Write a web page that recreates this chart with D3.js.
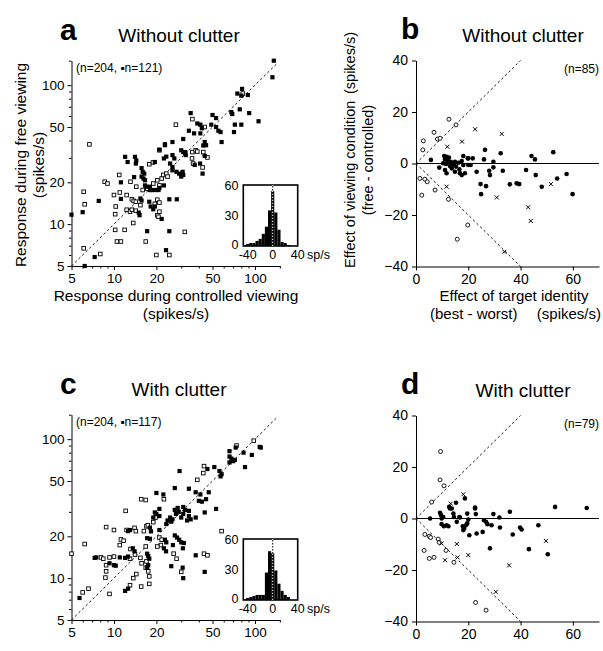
<!DOCTYPE html>
<html><head><meta charset="utf-8">
<script src="https://cdn.jsdelivr.net/npm/d3@7"></script>
<style>body{margin:0;background:#fff} text{font-family:"Liberation Sans",Arial,sans-serif;fill:#000}</style>
</head><body><svg id="chart" width="603" height="651"></svg>
<script>
// ---------- DATA ----------
const logMajorTicks = [5, 10, 20, 50, 100];
const logMinorTicks = [6,7,8,9,30,40,60,70,80,90,150];
const linXTicks = [0, 20, 40, 60];
const linYTicks = [-40, -20, 0, 20, 40];
const insetXTicks = [-40, 0, 40];
const insetYTicks = [0, 30, 60];

// panel a: [controlled, free]
const aFilled = [[136,150],[133,114],[81,94],[75,87],[80,84],[89,85],[68,64],[69,62],[78,67],[91,63],[72,52],[80,52],[106,55],[71,46],[35,63],[50,61],[53,58],[39,53],[41,52],[42,49],[49,52],[53,50],[55,47],[57,46],[34,47],[37,45],[41,45],[31,41],[26,39],[23,37],[30,34],[31,33],[32,33],[44,39],[45,37],[58,39],
[12,30.5],[12.5,28],[13.9,21.8],[11.2,20],[7.8,14.7],[6.0,12.2],[5.0,11.7],[11.2,15.2],[15.4,15.3],[15.7,14.8],[15,12.1],[15.2,11.6],[7.3,5.8],[6.2,5],[17.2,8.9],[21.8,10.9],[24.7,8.9],[23.4,6.5],[24.7,15.1],[27.9,15.1],
[15.7,25.3],[16,23.8],[16.4,23.1],[15.7,22],[16.2,21.3],[16.6,20.7],[19.5,28],[21,34.4],[23,37.6],[22.6,29.7],[23.5,30.6],[26,31.4],[26.8,29.7],[25,27.3],[26,25.8],[26,24.4],[27.8,23.8],[29,23.1],[30,22],[31,22.6],[30.7,23.8],[32,32.6],[32.3,31.4],[43,36.8],[44,31],[37.4,26.7],[40.8,27.3],[42.5,23.1],[16.6,19],[17,18.6],[18,18.6],[18,17.6],[18.5,17.6],[19.5,17.6],[20.7,17.6],[21,18.2],[22.6,19],[17.8,14.5],[18.2,13.4],[19,12.8],[19.5,13.4],[14.1,30.5],[14.4,28.7],[14.3,27.3]];
const aOpen = [[82,87],[36,57],[44,50],[27.5,52],[21,34],[36,33],[43,33],[6.7,37.5],[10.9,22.6],[8.6,20.2],[9.0,19.6],[13.1,20.2],[6.1,17.1],[6.2,13.9],[10,16.2],[11,16.9],[12.3,16.2],[10.3,13.4],[13.4,15.1],[13.8,14.7],[14.3,14.5],[12.3,12.7],[13,12.3],[13.4,12.7],[10.2,11.8],[14.3,12.5],[13.7,10.2],[10.2,9.1],[11.9,9.1],[10.5,7.5],[11.2,7.5],[6.1,6.7],[8,6.1],[16.8,7.5],[20.3,11.6],[20.7,11.3],[21,12.3],[20,6.0],[24.7,6.0],[31.8,8.8],[17.8,27],[18.9,27.8],[35.8,29.7],[36.4,27.3],[38,34],[39,33.3],[46,30.2],[42.5,25.6],[19,19.6],[20.3,20.7],[21,19],[21.8,21.3],[22.4,22.6],[23.5,23.1],[24,22],[17.2,18],[14.4,18.6],[16,17.6],[15.4,13.7],[19.5,14],[20.3,15],[21,14.3]];

// panel c
const cFilled = [[108,88],[110,87],[95,77],[83,80],[73,87],[66,82],[66,75],[68,72.5],[70,69.5],[66,68],[72,71],[85,63],[46,61],[51.5,63],[56,59],[58,56],[57,54],[29.2,59],[27,44.5],[34,44],[38,41.5],[41,40],[47,41.5],[40,36],[42,35.5],[45,37],[53,31.5],[44,29.7],[20,41],[22.4,40],[21,31.5],[19.5,29.7],[20,29],[21,28],[19,27.3],[27,31],[28.3,32],[28.8,30],[27.5,29],[31,32.5],[32,31],[34,30.5],[34,28],[35,26.5],[33,26],[30,27.3],[31,29],[38,27.3],[24,26],[25.5,25.5],[26,26.5],[25,27.3],[23.5,24.5],[18,23.1],[18.3,21.7],[21,22.2],[12.6,21.8],[13,22.2],[17.2,19.4],[18,19.2],[23,18.9],[23.5,18.1],[22.6,16.4],[23.4,15.6],[27,20.3],[28,19.6],[29,18.9],[30,18.1],[31.3,17.9],[26.2,17.3],[30.8,16.4],[13.6,16.4],[14,15.6],[11,14.1],[12,14],[12.6,14.3],[9.3,12.8],[10,12.4],[10.3,12.3],[7.3,14],[7.5,14.1],[17.2,15],[17.5,14.4],[17.8,13.8],[17.5,12.4],[17.2,11.9],[25.5,12.2],[30.7,11.9],[31,10],[38,14.6],[44,11.1],[12,8.1],[12.6,8.4],[5.7,7.2]];
const cOpen = [[98,97.5],[74,90],[43.5,64],[15.6,37],[16.8,36.5],[22.6,37],[12.1,30.5],[8.8,23.3],[10,22.2],[11.2,19],[11.7,18.6],[14,23],[14.3,21.8],[16.3,21.8],[21,19.6],[21.8,18.9],[21.5,17.3],[16.8,16.9],[20.3,16.9],[13.1,16.2],[14.1,14.8],[13,13.8],[8.1,14.1],[9.3,14.1],[10,14.3],[8.4,13.8],[8.8,12.4],[8.8,11.2],[8.7,10.1],[15.4,14],[15.7,12.8],[17,13.2],[16.8,11.9],[17.5,11.2],[17.8,10.3],[17.8,9.1],[14.4,10.7],[13.7,10],[13,8.9],[15.6,8.7],[9.3,7.7],[6,7.9],[6.6,8.4],[27.8,13.8],[30,11.1],[39,51],[43,57],[58,21.8],[43.5,15],[46,14.6],[26.5,15],[6.2,17.6],[12.3,22.2],[11,17.3],[5,15],[17,23.6],[17.4,24],[19,25.3],[19.7,27.3]];

// panel b: [target identity effect, viewing effect]
const bOpen = [[12.6,17.2],[15.3,15],[6.9,12.1],[2.8,8.8],[8.2,9.5],[9.2,9.8],[2.6,5.3],[1.5,-5.8],[3.4,-6.1],[4.3,-7.1],[2.2,-12.3],[7.3,-10.3],[12.4,-13.9],[19.8,-23.9],[15.8,-29.4]];
const bCross = [[22.6,13.3],[32.8,11.5],[12,6.5],[17.6,8.5],[11.7,-9],[30.9,-13.2],[42.9,-17],[43.9,-22.3],[33.8,-34.3],[51.6,-8]];
const bFilled = [[26.4,5.3],[32.4,4],[44.2,2.9],[45.5,1.6],[52.5,4.4],[5.7,1.4],[18.1,2.9],[19.8,2.0],[21.7,2.0],[26,1.6],[29.6,0.7],[8.9,-1.6],[23.2,-3.2],[24.7,-8],[24.9,-11.9],[26.8,-8.8],[28,-2.8],[28.3,-4.5],[29.6,-1.5],[33.2,-2.8],[35.9,-8.1],[38.5,-7.7],[39.5,-8],[42.1,-2.5],[45.8,-4.5],[48.1,-9],[54,-5.8],[57.6,-4.1],[59.9,-11.9],[10.8,2.9],[11.7,2.6],[12.6,2.3],[11.1,1.6],[12.1,1.1],[13.3,0.7],[10.4,0.1],[11.5,-0.2],[13.7,0.1],[14.9,0.7],[16.2,0.3],[17.5,1],[20,2],[11.1,-2.5],[11.7,-3.8],[13.7,-1.9],[14.9,-3.2],[16.8,-3.8],[17.5,-4.5],[18.7,-3.8],[15.3,-1.2],[16.6,-2.3],[13,-1],[14.5,-0.6],[18.1,-0.6],[20,-0.6],[20.9,-0.6]];

// panel d
const dOpen = [[9.4,26],[9.2,15],[10.7,12.7],[6.0,6.4],[3.4,-6.2],[5.1,-6.9],[5.6,-7.4],[8.5,-8.0],[8.9,-9.3],[3.1,-12.4],[11.5,-12.4],[5.1,-15.5],[6.9,-15.1],[14.5,-17.0],[22.8,-32.6],[26.8,-35.6]];
const dCross = [[13.3,5.8],[18.1,9.4],[9.8,-9.7],[15.6,-9.9],[11.1,-16.2],[15.9,-15.1],[20,-14.2],[35.6,-18.2],[30.5,-28.5],[49.7,-8.7]];
const dFilled = [[15.3,6.1],[18.7,7.8],[22.6,4.3],[53.2,4.5],[65.3,4.1],[12.7,4.5],[13.7,3.9],[5.4,0],[9.2,2.2],[9.6,1.3],[9.8,0],[10.4,0.6],[9.8,-2.2],[10.7,-3],[11.7,-2.6],[12.4,-3],[14.3,1.9],[14.5,0.6],[15.6,-1.3],[16.6,0.6],[16.8,0.4],[17.9,-3],[18.4,-3.9],[18.1,-4.5],[19.1,-2.6],[19.6,-1.9],[20,-0.4],[19.6,1.9],[20.4,-6.5],[22.9,1.7],[23.2,-5.8],[25.5,-5.2],[26,-0.7],[26.8,-1.3],[27.3,-2.2],[28.9,-2.6],[29.6,1.7],[28.3,-11.6],[31.9,0.4],[32.1,-3.5],[35.9,2.6],[37,-6.2],[39.8,-3.5],[40.4,-4.3],[43.2,-11.9],[46.8,-2.6],[50.4,-13.9],[13,3.9],[22.6,3.9]];

// inset histograms (bin centres, counts) of free - controlled (sp/s)
const histBins = [-45,-40,-35,-30,-25,-20,-15,-10,-5,0,5,10,15,20,25];
const histA = [1,2,3,3,5,7,12,19,35,54,33,16,4,3,1];
const histC = [1,2,3,4,5,5,5,27,48,46,29,16,9,5,3];

// ---------- DRAW ----------
const svg = d3.select("#chart");
const FONT = '"Liberation Sans",Arial,sans-serif';

function txt(g, x, y, s, size, anchor, extra) {
  const t = g.append("text").attr("x", x).attr("y", y).text(s)
    .style("font-size", size + "px").attr("text-anchor", anchor || "start");
  if (extra) extra(t);
  return t;
}

function logPanel(top, filled, open, nText, title, letter, inset, showXTitle) {
  const g = svg.append("g");
  const x = d3.scaleLog().domain([5, 150]).range([71.5, 279.8]);
  const y = d3.scaleLog().domain([5, 150]).range([266 + top, 60.7 + top]);
  const xg = g.append("g").attr("transform", `translate(0,${266 + top})`);
  xg.call(d3.axisBottom(x).tickValues(logMajorTicks).tickFormat(d3.format("d")).tickSize(4).tickSizeOuter(0).tickPadding(3));
  xg.append("g").call(d3.axisBottom(x).tickValues(logMinorTicks).tickFormat("").tickSize(2.5).tickSizeOuter(0)).select(".domain").remove();
  const yg = g.append("g").attr("transform", `translate(71.5,0)`);
  yg.call(d3.axisLeft(y).tickValues(logMajorTicks).tickFormat(d3.format("d")).tickSize(4).tickSizeOuter(0).tickPadding(3));
  yg.append("g").call(d3.axisLeft(y).tickValues(logMinorTicks).tickFormat("").tickSize(2.5).tickSizeOuter(0)).select(".domain").remove();
  g.selectAll(".tick text").style("font-size", "13.5px").style("font-family", FONT);
  g.selectAll(".domain,.tick line").attr("stroke", "#000").attr("stroke-width", 1);
  g.append("line").attr("x1", x(5)).attr("y1", y(5)).attr("x2", x(145)).attr("y2", y(145))
    .attr("stroke", "#000").attr("stroke-dasharray", "2.5,2.5").attr("stroke-width", 0.9);
  const s = 3.6;
  g.selectAll(".o").data(open).enter().append("rect")
    .attr("x", d => x(d[0]) - s / 2).attr("y", d => y(d[1]) - s / 2).attr("width", s).attr("height", s)
    .attr("fill", "#fff").attr("stroke", "#000").attr("stroke-width", 0.9);
  g.selectAll(".f").data(filled).enter().append("rect")
    .attr("x", d => x(d[0]) - 2.1).attr("y", d => y(d[1]) - 2.1).attr("width", 4.2).attr("height", 4.2)
    .attr("fill", "#000");
  txt(g, 76, 71.7 + top, nText, 12);
  txt(g, 179, 41.7 + top, title, 19, "middle");
  txt(g, 60, 39.5 + top, letter, 30, "start", t => t.style("font-weight", "bold"));
  if (showXTitle) {
    txt(g, 176, 301, "Response during controlled viewing", 15.5, "middle");
    txt(g, 176, 319, "(spikes/s)", 15.5, "middle");
    txt(g, 0, 0, "Response during free viewing", 15.5, "middle", t => t.attr("transform", "translate(26,165) rotate(-90)"));
    txt(g, 0, 0, "(spikes/s)", 15.5, "middle", t => t.attr("transform", "translate(44,165) rotate(-90)"));
  }
  const ix = d3.scaleLinear().domain([-40, 40]).range([247.7, 297.7]);
  const iy = d3.scaleLinear().domain([0, 60]).range([246 + top, 185 + top]);
  const ig = g.append("g");
  ig.append("rect").attr("x", 243.3).attr("y", 185 + top).attr("width", 297.7 - 243.3).attr("height", 61)
    .attr("fill", "#fff").attr("stroke", "#000").attr("stroke-width", 1.6);
  ig.selectAll(".bar").data(histBins.map((b, i) => [b, inset[i]])).enter().append("rect")
    .attr("x", d => ix(d[0] - 2.5)).attr("width", ix(5) - ix(0)).attr("y", d => iy(d[1]))
    .attr("height", d => iy(0) - iy(d[1])).attr("fill", "#000");
  ig.append("line").attr("x1", ix(0)).attr("x2", ix(0)).attr("y1", iy(0)).attr("y2", iy(60))
    .attr("stroke", "#fff").attr("stroke-width", 1).attr("stroke-dasharray", "1.5,1.5");
  ig.append("line").attr("x1", ix(0)).attr("x2", ix(0)).attr("y1", iy(0)).attr("y2", iy(60))
    .attr("stroke", "#000").attr("stroke-width", 1).attr("stroke-dasharray", "1.5,1.5").attr("stroke-dashoffset", 1.5);
  insetYTicks.forEach(v => txt(ig, 238.5, iy(v) + (v === 0 ? 3 : 4.5), String(v), 12.5, "end"));
  insetXTicks.forEach(v => txt(ig, ix(v), 259 + top, String(v), 12.5, "middle"));
  txt(ig, 307, 259 + top, "sp/s", 12.5, "start");
}

function linPanel(top, filled, open, cross, nText, title, letter, showTitles) {
  const g = svg.append("g");
  const x = d3.scaleLinear().domain([0, 70]).range([416, 599]);
  const y = d3.scaleLinear().domain([-40, 40]).range([266.5 + top, 60.5 + top]);
  const xg = g.append("g").attr("transform", `translate(0,${266.5 + top})`);
  xg.call(d3.axisBottom(x).tickValues(linXTicks).tickSize(4).tickSizeOuter(0).tickPadding(4));
  const yg = g.append("g").attr("transform", `translate(416,0)`);
  yg.call(d3.axisLeft(y).tickValues(linYTicks).tickSize(4).tickSizeOuter(0).tickPadding(4));
  g.selectAll(".tick text").style("font-size", "14px").style("font-family", FONT);
  g.selectAll(".domain,.tick line").attr("stroke", "#000").attr("stroke-width", 1);
  g.append("line").attr("x1", x(0)).attr("x2", x(70)).attr("y1", y(0)).attr("y2", y(0)).attr("stroke", "#000").attr("stroke-width", 1);
  g.append("line").attr("x1", x(0)).attr("y1", y(0)).attr("x2", x(40)).attr("y2", y(40))
    .attr("stroke", "#000").attr("stroke-dasharray", "2.5,2.5").attr("stroke-width", 0.9);
  g.append("line").attr("x1", x(0)).attr("y1", y(0)).attr("x2", x(40)).attr("y2", y(-40))
    .attr("stroke", "#000").attr("stroke-dasharray", "2.5,2.5").attr("stroke-width", 0.9);
  g.selectAll(".o").data(open).enter().append("circle")
    .attr("cx", d => x(d[0])).attr("cy", d => y(d[1])).attr("r", 2)
    .attr("fill", "#fff").attr("stroke", "#000").attr("stroke-width", 0.9);
  g.selectAll(".f").data(filled).enter().append("circle")
    .attr("cx", d => x(d[0])).attr("cy", d => y(d[1])).attr("r", 2.3).attr("fill", "#000");
  const cr = 2;
  g.selectAll(".x").data(cross).enter().append("path")
    .attr("d", d => { const cx = x(d[0]), cy = y(d[1]); return `M${cx-cr},${cy-cr}L${cx+cr},${cy+cr}M${cx-cr},${cy+cr}L${cx+cr},${cy-cr}`; })
    .attr("stroke", "#000").attr("stroke-width", 1);
  txt(g, 599, 73.3 + top, nText, 12, "end");
  txt(g, 523, 42 + top, title, 19, "middle");
  txt(g, 401, 38.5 + top, letter, 30, "start", t => t.style("font-weight", "bold"));
  if (showTitles) {
    txt(g, 514, 301, "Effect of target identity", 15, "middle");
    txt(g, 430, 319, "(best - worst)", 15, "start");
    txt(g, 601, 319, "(spikes/s)", 15, "end");
    txt(g, 0, 0, "Effect of viewing condition", 14.5, "start", t => t.attr("transform", "translate(355,268) rotate(-90)"));
    txt(g, 0, 0, "(spikes/s)", 14.5, "start", t => t.attr("transform", "translate(355,94) rotate(-90)"));
    txt(g, 0, 0, "(free - controlled)", 14.5, "middle", t => t.attr("transform", "translate(373,160) rotate(-90)"));
  }
}

logPanel(0, aFilled, aOpen, "(n=204, \u25AAn=121)", "Without clutter", "a", histA, true);
logPanel(354, cFilled, cOpen, "(n=204, \u25AAn=117)", "With clutter", "c", histC, false);
linPanel(0, bFilled, bOpen, bCross, "(n=85)", "Without clutter", "b", true);
linPanel(355, dFilled, dOpen, dCross, "(n=79)", "With clutter", "d", false);
</script></body></html>
